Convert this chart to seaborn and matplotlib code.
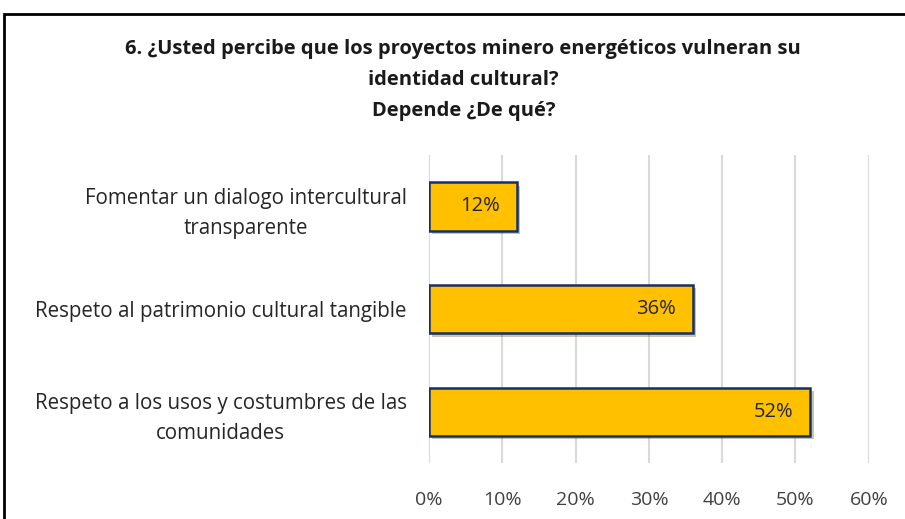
import matplotlib.pyplot as plt
import matplotlib.patheffects as pe
from matplotlib.patches import Rectangle
from matplotlib.ticker import PercentFormatter, MultipleLocator
import seaborn as sns
import pandas as pd

categories = ['Fomentar un dialogo intercultural\ntransparente',
              'Respeto al patrimonio cultural tangible',
              'Respeto a los usos y costumbres de las\ncomunidades']
values = [12, 36, 52]
title = ('6. ¿Usted percibe que los proyectos minero energéticos vulneran su\n'
         'identidad cultural?\nDepende ¿De qué?')

df = pd.DataFrame({'categoria': categories, 'valor': values})

sns.set_theme(style='white')
plt.rcParams['font.family'] = ['Open Sans', 'DejaVu Sans']

fig = plt.figure(figsize=(9.05, 5.19), dpi=100)
ax = fig.add_axes([0.474, 0.108, 0.486, 0.593])

sns.barplot(data=df, x='valor', y='categoria', orient='h', color='#FFC000',
            edgecolor='#14306B', linewidth=1.8, width=0.47, ax=ax, saturation=1)
for bar in ax.patches:
    bar.set_path_effects([pe.SimplePatchShadow(offset=(2.5, -2.5), alpha=0.3), pe.Normal()])
    bar.set_zorder(3)

for i, v in enumerate(values):
    ax.annotate(f'{v}%', xy=(v, i), xytext=(-12, 0), textcoords='offset points',
                ha='right', va='center', fontsize=14.5, color='#262626', zorder=4)

ax.set_xlim(0, 60)
ax.xaxis.set_major_locator(MultipleLocator(10))
ax.xaxis.set_major_formatter(PercentFormatter(decimals=0))
ax.grid(axis='x', color='#D9D9D9', linewidth=1.5, zorder=0)
ax.set_axisbelow(True)
for s in ax.spines.values():
    s.set_visible(False)
ax.set_xlabel('')
ax.set_ylabel('')
ax.tick_params(axis='x', labelsize=14, colors='#404040', pad=20, length=0)
ax.tick_params(axis='y', labelsize=14.8, colors='#262626', pad=16, length=0)
for lab in ax.get_yticklabels():
    lab.set_multialignment('center')
    lab.set_linespacing(1.55)

fig.text(0.512, 0.925, title, ha='center', va='top', fontsize=14.5,
         fontweight='bold', color='#1a1a1a', linespacing=1.72)

fig.patches.append(Rectangle((4 / 905, -0.05), 1.1, 1 - 14 / 519 + 0.05,
                             transform=fig.transFigure, fill=False,
                             edgecolor='black', linewidth=2))

fig.savefig('out.png', dpi=100)
